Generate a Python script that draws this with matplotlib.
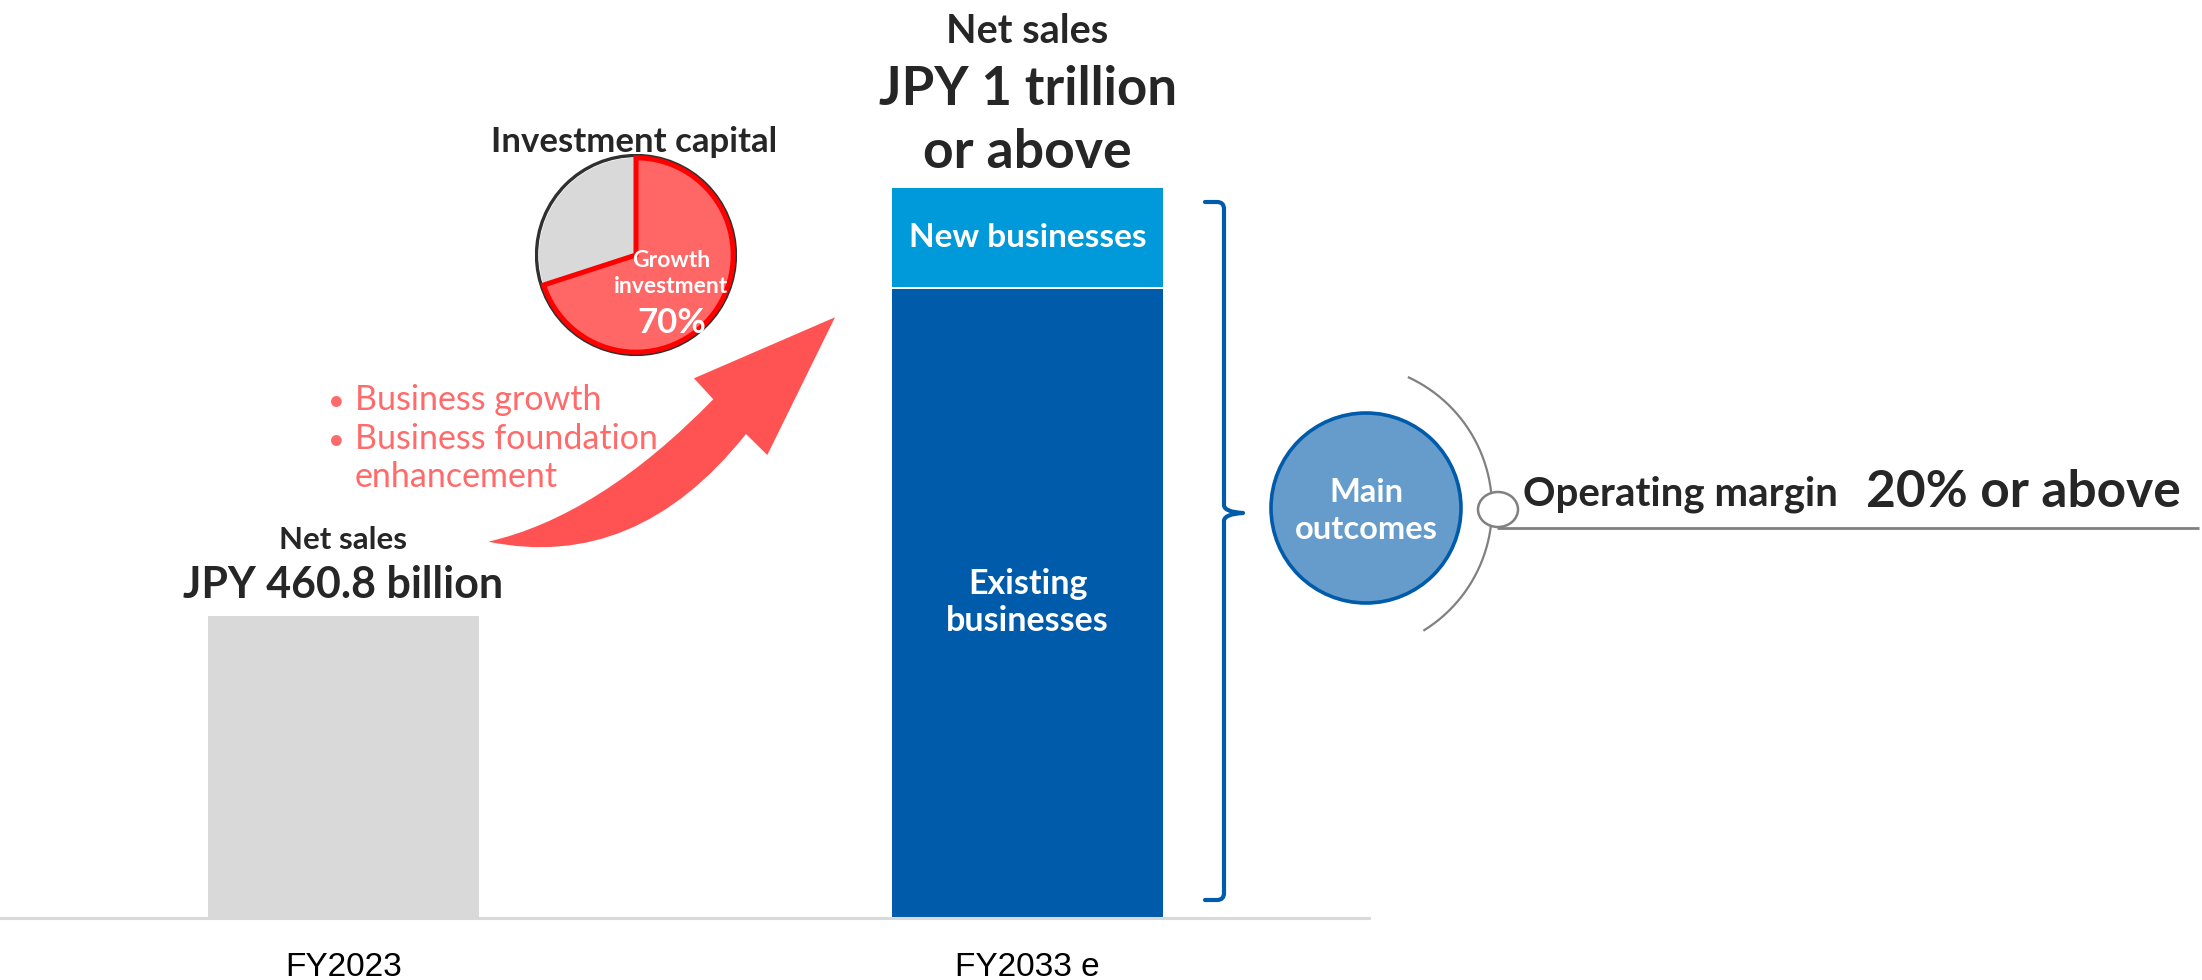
import numpy as np
import matplotlib
matplotlib.use("Agg")
import matplotlib.pyplot as plt
from matplotlib.path import Path
from matplotlib.patches import PathPatch, Circle, Ellipse

# ---------------- data ----------------
categories = ["FY2023", "FY2033 e"]
fy2023_sales = 460.8          # JPY billion
fy2033_existing = 962.0       # JPY billion, existing businesses
fy2033_new = 152.0            # JPY billion, new businesses
segment_labels = ["Existing\nbusinesses", "New businesses"]
investment_labels = ["Growth", "investment"]
investment_share = [70, 30]   # % of investment capital
focus_items = ["Business growth", "Business foundation\nenhancement"]
operating_margin_target = 20  # %

# ---------------- style ----------------
FONT = "Lato"
DARK = "#262626"
GRAY_BAR = "#D9D9D9"
BLUE_DARK = "#005BAA"
BLUE_LIGHT = "#009ADA"
RED = "#FF5252"
RED_TEXT = "#FF6B6B"
W, H = 2202, 980

plt.rcParams["font.family"] = [FONT, "DejaVu Sans"]
fig = plt.figure(figsize=(W / 100, H / 100), dpi=100)
fig.patch.set_facecolor("white")

# ---------------- bar chart ----------------
base_px = 918
ax = fig.add_axes([0, (H - base_px) / H, 1369 / W, base_px / H])
bar_w = 0.396
ax.bar(0, fy2023_sales, width=bar_w, color=GRAY_BAR, linewidth=0)
ax.bar(1, fy2033_existing, width=bar_w, color=BLUE_DARK, linewidth=0)
ax.bar(1, fy2033_new, bottom=fy2033_existing, width=bar_w, color=BLUE_LIGHT, linewidth=0)
ax.hlines(fy2033_existing, 1 - bar_w / 2, 1 + bar_w / 2, color="white", lw=1.4)
ax.set_xlim(-0.502, 1.499)
ax.set_ylim(0, 1400.7)
for s in ["top", "left", "right"]:
    ax.spines[s].set_visible(False)
ax.spines["bottom"].set_color(GRAY_BAR)
ax.spines["bottom"].set_linewidth(2.2)
ax.set_xticks([])
ax.set_yticks([])
ax.patch.set_alpha(0)

px = 0.72  # points per pixel at 100 dpi

# category labels under the baseline
for i, c in enumerate(categories):
    ax.annotate(c, xy=(i, 0), xytext=(0, -58 * px), textcoords="offset points",
                ha="center", va="baseline", fontsize=24, color="black",
                family="Liberation Sans")

# value labels above the bars
ax.annotate("Net sales", xy=(0, fy2023_sales), xytext=(0, 67 * px),
            textcoords="offset points", ha="center", va="baseline",
            fontsize=22.5, fontweight="bold", color=DARK)
ax.annotate(f"JPY {fy2023_sales:.1f} billion", xy=(0, fy2023_sales), xytext=(0, 18 * px),
            textcoords="offset points", ha="center", va="baseline",
            fontsize=31, fontweight="bold", color=DARK)

top2033 = fy2033_existing + fy2033_new
ax.annotate("Net sales", xy=(1, top2033), xytext=(0, 145 * px),
            textcoords="offset points", ha="center", va="baseline",
            fontsize=28.5, fontweight="bold", color=DARK)
ax.annotate("JPY 1 trillion", xy=(1, top2033), xytext=(0, 83 * px),
            textcoords="offset points", ha="center", va="baseline",
            fontsize=38, fontweight="bold", color=DARK)
ax.annotate("or above", xy=(1, top2033), xytext=(0, 20 * px),
            textcoords="offset points", ha="center", va="baseline",
            fontsize=38.5, fontweight="bold", color=DARK)

# segment labels inside the stacked bar
ax.text(1, fy2033_existing / 2, segment_labels[0], ha="center", va="center",
        fontsize=24.5, fontweight="bold", color="white", linespacing=1.2)
ax.text(1, fy2033_existing + fy2033_new / 2, segment_labels[1], ha="center",
        va="center", fontsize=24, fontweight="bold", color="white")

# ---------------- overlay (pixel space) ----------------
ov = fig.add_axes([0, 0, 1, 1], zorder=5)
ov.set_xlim(0, W)
ov.set_ylim(H, 0)
ov.axis("off")
ov.patch.set_alpha(0)

# investment capital pie
pc = (636, 255)
pr = 101
pa = fig.add_axes([(pc[0] - pr) / W, (H - pc[1] - pr) / H, 2 * pr / W, 2 * pr / H], zorder=6)
pa.add_patch(Circle((0, 0), 0.985, fill=False, ec="#303030", lw=2.4, zorder=1))
wedges, _ = pa.pie(investment_share, colors=["#FF6666", GRAY_BAR], startangle=90,
                   counterclock=False, radius=0.962, wedgeprops=dict(linewidth=0))
wedges[0].set_edgecolor("#FF0000")
wedges[0].set_linewidth(3.6)
wedges[0].set_zorder(3)
pa.set_xlim(-1, 1)
pa.set_ylim(-1, 1)
pa.set_aspect("equal")
pa.axis("off")

ov.text(634, 152, "Investment capital", ha="center", va="baseline",
        fontsize=25, fontweight="bold", color=DARK)
fig.text(671 / W, 1 - 267 / H, investment_labels[0], ha="center", va="baseline",
         fontsize=16.5, fontweight="bold", color="white", zorder=10)
fig.text(671 / W, 1 - 293 / H, investment_labels[1], ha="center", va="baseline",
         fontsize=16.5, fontweight="bold", color="white", zorder=10)
fig.text(672 / W, 1 - 333 / H, f"{investment_share[0]}%", ha="center", va="baseline",
         fontsize=25, fontweight="bold", color="white", zorder=10)

# focus bullets
y0 = 410
line_h = 38.5
row = 0
for item in focus_items:
    for k, line in enumerate(item.split("\n")):
        yy = y0 + row * line_h
        if k == 0:
            ov.text(328, yy, "•", ha="left", va="baseline", fontsize=21,
                    color=RED_TEXT)
        ov.text(355, yy, line, ha="left", va="baseline", fontsize=24.5,
                color=RED_TEXT)
        row += 1

# curved growth arrow
tail = (488.3, 541.7)
up_ctrl, up_end = (599.2, 516.2), (713.3, 399.3)
lo_ctrl, lo_end = (636.2, 572.2), (746.0, 434.0)
barb_l, tip, barb_r = (694.0, 378.3), (835.0, 317.3), (767.3, 455.0)
verts = [tail, up_ctrl, up_end, barb_l, tip, barb_r, lo_end, lo_ctrl, tail, tail]
codes = [Path.MOVETO, Path.CURVE3, Path.CURVE3, Path.LINETO, Path.LINETO,
         Path.LINETO, Path.LINETO, Path.CURVE3, Path.CURVE3, Path.CLOSEPOLY]
ov.add_patch(PathPatch(Path(verts, codes), fc=RED, ec="none"))

# bracket spanning the FY2033 bar
bx, bt, bm, bb, nub = 1224, 202, 513, 900, 1243
bverts = [(1205, bt), (bx - 7, bt), (bx, bt), (bx, bt + 7), (bx, bm - 8),
          (bx, bm - 1), (nub, bm), (bx, bm + 1), (bx, bm + 8), (bx, bb - 7),
          (bx, bb), (bx - 7, bb), (1205, bb)]
bcodes = [Path.MOVETO, Path.LINETO, Path.CURVE3, Path.CURVE3, Path.LINETO,
          Path.CURVE3, Path.CURVE3, Path.CURVE3, Path.CURVE3, Path.LINETO,
          Path.CURVE3, Path.CURVE3, Path.LINETO]
ov.add_patch(PathPatch(Path(bverts, bcodes), fc="none", ec=BLUE_DARK, lw=3.0,
                       capstyle="round", joinstyle="round"))

# main outcomes circle
ov.add_patch(Circle((1366, 508), 95, fc="#659CCB", ec=BLUE_DARK, lw=2.6))
ov.text(1366, 511, "Main\noutcomes", ha="center", va="center", fontsize=23.5,
        fontweight="bold", color="white", linespacing=1.35)

# connector arc, node and rule line
t = np.radians(np.linspace(-58, 65, 200))
ov.plot(1348 + 144 * np.cos(t), 508 - 144 * np.sin(t), color="#808080", lw=1.6)
ov.plot([1497, 2199], [528, 528], color="#808080", lw=2.0, solid_capstyle="butt")
ov.add_patch(Ellipse((1498, 509.5), 40, 35, fc="white", ec="#808080", lw=1.8, zorder=6))

ov.text(1523, 505, "Operating margin", ha="left", va="baseline", fontsize=29,
        fontweight="bold", color=DARK)
ov.text(1866, 507, f"{operating_margin_target}% or above", ha="left", va="baseline",
        fontsize=37, fontweight="bold", color=DARK)

fig.savefig("out.png", dpi=100, facecolor="white")
